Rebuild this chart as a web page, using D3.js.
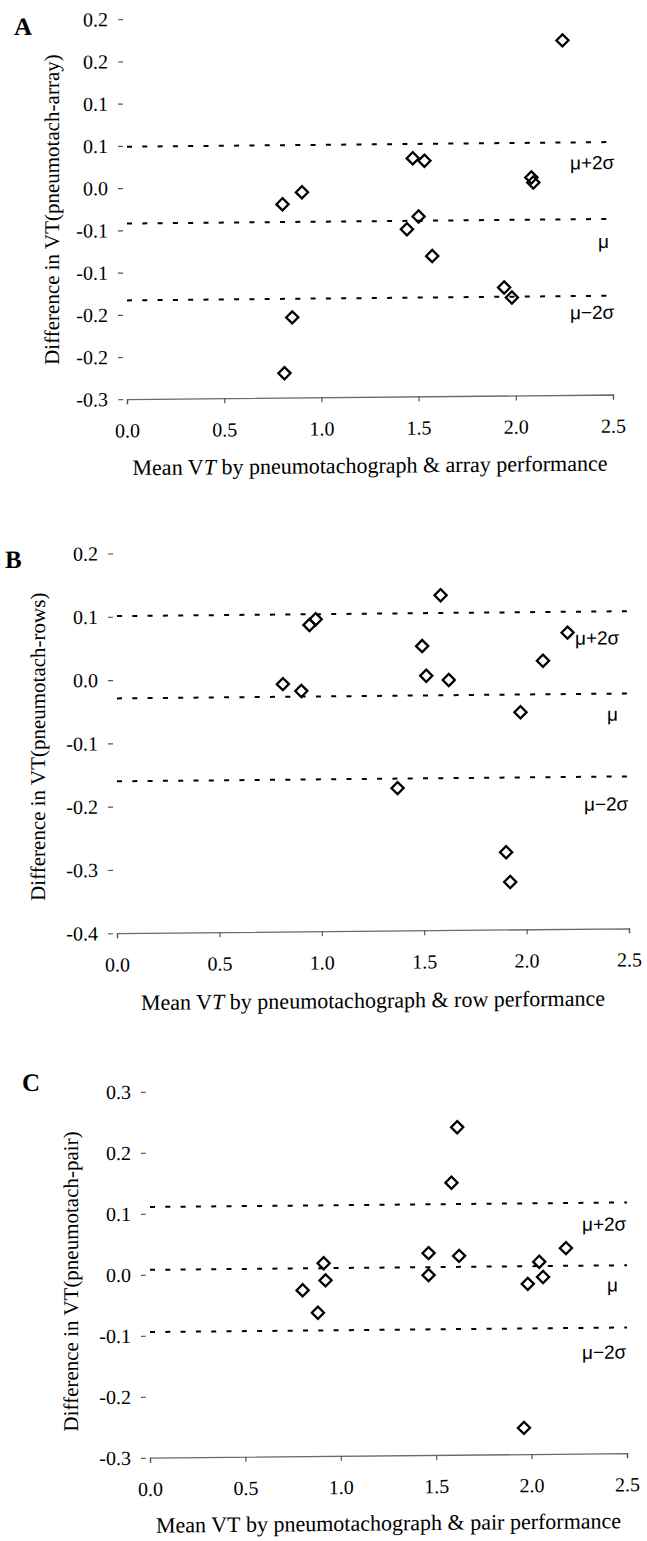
<!DOCTYPE html>
<html>
<head>
<meta charset="utf-8">
<script src="https://cdn.jsdelivr.net/npm/d3@7"></script>
<style>
  html, body { margin: 0; padding: 0; background: #fff; }
  svg { display: block; }
  .tick text { font-family: "Liberation Serif", "Times New Roman", serif; font-size: 20px; fill: #000; }
</style>
</head>
<body>
<svg id="fig" width="647" height="1541"></svg>
<script>
// Shared x axis (mean VT, litres)
const xTicks = [0, 0.5, 1, 1.5, 2, 2.5];
const xTickLabels = ["0.0", "0.5", "1.0", "1.5", "2.0", "2.5"];

// Limit-line names, in the order the limit values are stored
const limitNames = ["μ+2σ", "μ", "μ−2σ"];

// Panel A: pneumotachograph vs array
const aMean = [0.80, 0.90, 0.85, 0.81, 2.24, 1.47, 1.53, 2.08, 2.09, 1.50, 1.44, 1.57, 1.94, 1.98];
const aDiff = [-0.021, -0.007, -0.155, -0.221, 0.170, 0.032, 0.029, 0.008, 0.002, -0.037, -0.052, -0.084, -0.122, -0.134];
const aLimits = [0.049, -0.042, -0.133];
const aTicks = [0.2, 0.15, 0.1, 0.05, 0, -0.05, -0.1, -0.15, -0.2, -0.25];
const aTickLabels = ["0.2", "0.2", "0.1", "0.1", "0.0", "-0.1", "-0.1", "-0.2", "-0.2", "-0.3"];

// Panel B: pneumotachograph vs rows
const bMean = [0.81, 0.90, 0.94, 0.97, 1.58, 1.49, 1.51, 1.62, 2.20, 2.08, 1.97, 1.37, 1.90, 1.92];
const bDiff = [-0.009, -0.020, 0.084, 0.093, 0.129, 0.049, 0.002, -0.005, 0.068, 0.024, -0.057, -0.175, -0.278, -0.325];
const bLimits = [0.101, -0.029, -0.160];
const bTicks = [0.2, 0.1, 0, -0.1, -0.2, -0.3, -0.4];
const bTickLabels = ["0.2", "0.1", "0.0", "-0.1", "-0.2", "-0.3", "-0.4"];

// Panel C: pneumotachograph vs pair
const cMean = [0.91, 0.92, 0.80, 0.88, 1.61, 1.58, 1.46, 1.46, 1.62, 2.18, 2.04, 2.06, 1.98, 1.96];
const cDiff = [0.016, -0.012, -0.028, -0.065, 0.237, 0.146, 0.031, -0.005, 0.026, 0.037, 0.015, -0.010, -0.021, -0.257];
const cLimits = [0.111, 0.008, -0.094];
const cTicks = [0.3, 0.2, 0.1, 0, -0.1, -0.2, -0.3];
const cTickLabels = ["0.3", "0.2", "0.1", "0.0", "-0.1", "-0.2", "-0.3"];

const panels = [
  { letter: "A", mean: aMean, diff: aDiff, limits: aLimits, ticks: aTicks, tickLabels: aTickLabels,
    yDomain: [-0.25, 0.2], yRange: [399.25, 19.25], xRange: [127, 613],
    yTitle: "Difference in VT(pneumotach-array)", xTitle: ["Mean V", "T", " by pneumotachograph & array performance"],
    letterPos: [14, 34], yTitlePos: [59, 209], xTitleGap: 76,
    limitLabelX: [570, 598, 570], limitLabelDy: [27, 29, 23] },
  { letter: "B", mean: bMean, diff: bDiff, limits: bLimits, ticks: bTicks, tickLabels: bTickLabels,
    yDomain: [-0.4, 0.2], yRange: [933.2, 553.4], xRange: [117, 629],
    yTitle: "Difference in VT(pneumotach-rows)", xTitle: ["Mean V", "T", " by pneumotachograph & row performance"],
    letterPos: [5, 567], yTitlePos: [45, 746], xTitleGap: 77,
    limitLabelX: [575, 607, 584], limitLabelDy: [33, 27, 34] },
  { letter: "C", mean: cMean, diff: cDiff, limits: cLimits, ticks: cTicks, tickLabels: cTickLabels,
    yDomain: [-0.3, 0.3], yRange: [1458, 1092], xRange: [150, 627],
    yTitle: "Difference in VT(pneumotach-pair)", xTitle: ["Mean VT", "", " by pneumotachograph & pair performance"],
    letterPos: [22, 1090], yTitlePos: [78, 1281], xTitleGap: 75,
    limitLabelX: [582, 607, 582], limitLabelDy: [28, 26, 31] }
];

const svg = d3.select("#fig");
svg.append("rect").attr("width", 647).attr("height", 1541).attr("fill", "#fff");

// The printed figure sits at a slight slant
const page = svg.append("g")
  .attr("transform", "translate(120,0) skewY(-0.55) translate(-120,0)");

const serif = "'Liberation Serif', 'Times New Roman', serif";
const sans = "'Liberation Sans', Arial, sans-serif";
const diamond = d3.symbol().type(d3.symbolSquare).size(74);

panels.forEach(p => {
  const g = page.append("g");
  const x = d3.scaleLinear().domain([0, 2.5]).range(p.xRange);
  const y = d3.scaleLinear().domain(p.yDomain).range(p.yRange);
  const yBase = y(p.yDomain[0]);

  // x axis along the bottom
  const xAxis = d3.axisBottom(x)
    .tickValues(xTicks)
    .tickFormat((d, i) => xTickLabels[i])
    .tickSize(5).tickSizeOuter(5).tickPadding(19);
  const gx = g.append("g").attr("transform", `translate(0,${yBase})`).call(xAxis);
  gx.select(".domain").attr("stroke", "#6a6a6a").attr("stroke-width", 1.3);
  gx.selectAll(".tick line").attr("stroke", "#555").attr("stroke-width", 1.2);

  // y axis: tick marks and labels only
  const yAxis = d3.axisLeft(y)
    .tickValues(p.ticks)
    .tickFormat((d, i) => p.tickLabels[i])
    .tickSize(5).tickPadding(10);
  const gy = g.append("g").attr("transform", `translate(${p.xRange[0] - 4},0)`).call(yAxis);
  gy.select(".domain").remove();
  gy.selectAll(".tick line").attr("stroke", "#555").attr("stroke-width", 1.2);

  // mean and ±2 SD limit lines
  g.selectAll("line.limit").data(p.limits).join("line")
    .attr("class", "limit")
    .attr("x1", x(0)).attr("x2", x(2.5))
    .attr("y1", d => y(d)).attr("y2", d => y(d))
    .attr("stroke", "#000").attr("stroke-width", 2)
    .attr("stroke-dasharray", "5,10.3");

  g.selectAll("text.limit").data(p.limits).join("text")
    .attr("class", "limit")
    .attr("x", (d, i) => p.limitLabelX[i])
    .attr("y", (d, i) => y(d) + p.limitLabelDy[i])
    .attr("font-family", sans).attr("font-size", 19)
    .text((d, i) => limitNames[i]);

  // difference vs mean points
  g.selectAll("path.pt").data(p.mean).join("path")
    .attr("class", "pt")
    .attr("d", diamond)
    .attr("transform", (d, i) => `translate(${x(d)},${y(p.diff[i])}) rotate(45)`)
    .attr("fill", "none").attr("stroke", "#000").attr("stroke-width", 2.3);

  // panel letter
  g.append("text")
    .attr("x", p.letterPos[0]).attr("y", p.letterPos[1])
    .attr("font-family", serif).attr("font-weight", "bold").attr("font-size", 25)
    .text(p.letter);

  // y title
  g.append("text")
    .attr("transform", `translate(${p.yTitlePos[0]},${p.yTitlePos[1]}) rotate(-90)`)
    .attr("text-anchor", "middle")
    .attr("font-family", serif).attr("font-size", 21)
    .text(p.yTitle);

  // x title
  const xt = g.append("text")
    .attr("x", (p.xRange[0] + p.xRange[1]) / 2)
    .attr("y", yBase + p.xTitleGap)
    .attr("text-anchor", "middle")
    .attr("font-family", serif).attr("font-size", 22);
  xt.append("tspan").text(p.xTitle[0]);
  if (p.xTitle[1]) xt.append("tspan").attr("font-style", "italic").text(p.xTitle[1]);
  xt.append("tspan").text(p.xTitle[2]);
});
</script>
</body>
</html>
